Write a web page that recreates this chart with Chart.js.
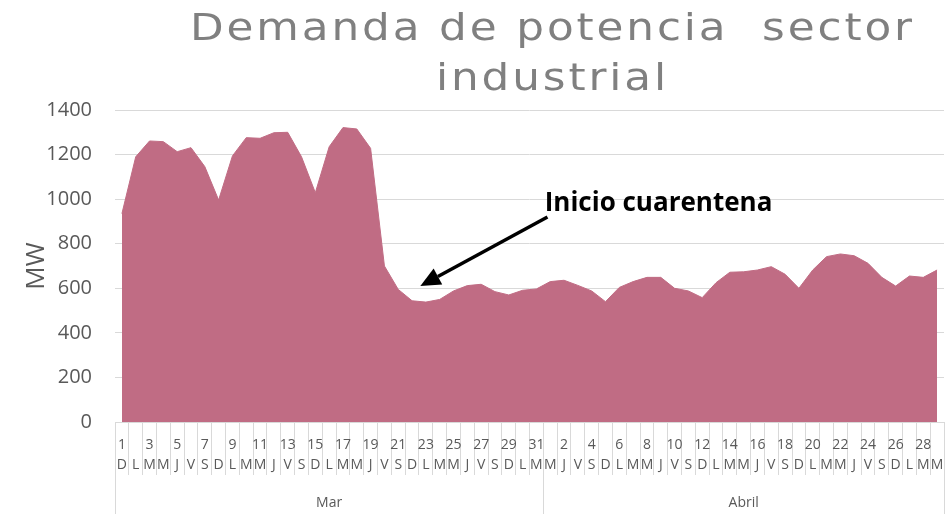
<!doctype html>
<html>
<head>
    <title>Demanda de potencia sector industrial</title>
    <meta charset="utf-8">
    <style>
        html, body {
            margin: 0;
            padding: 0;
            background: #fff;
        }

        .output {
            height: 514px;
            position: relative;
            width: 945px;
        }
    </style>
    <script src="https://cdn.jsdelivr.net/npm/chart.js@4/dist/chart.umd.min.js"></script>
</head>
<body>
<div class="output">
    <canvas data-output-chart></canvas>
</div>
<script>
    "use strict";

    // values (MW)
    let marchValues = [935, 1190, 1261, 1258, 1213, 1231, 1146, 996, 1194, 1276, 1273, 1298, 1300, 1190, 1029, 1235,
        1321, 1315, 1228, 700, 595, 544, 538, 550, 588, 612, 618, 585, 570, 591, 597];
    let aprilValues = [630, 636, 613, 588, 540, 604, 630, 649, 649, 600, 588, 558, 625, 672, 674, 682, 697, 663, 600,
        682, 742, 754, 746, 712, 649, 610, 655, 649, 682];

    let marchDays = ["1", "2", "3", "4", "5", "6", "7", "8", "9", "10", "11", "12", "13", "14", "15", "16", "17",
        "18", "19", "20", "21", "22", "23", "24", "25", "26", "27", "28", "29", "30", "31"];
    let aprilDays = ["1", "2", "3", "4", "5", "6", "7", "8", "9", "10", "11", "12", "13", "14", "15", "16", "17",
        "18", "19", "20", "21", "22", "23", "24", "25", "26", "27", "28", "29"];
    let weekLetters = ["D", "L", "M", "M", "J", "V", "S"]; // 1 de marzo = domingo
    let months = ["Mar", "Abril"];

    let yTicks = [0, 200, 400, 600, 800, 1000, 1200, 1400];

    let titleLines = ["Demanda de potencia  sector", "industrial"];
    let note = {text: "Inicio cuarentena", tip: [21.6, 610], tail: [30.8, 920], label: [30.6, 945]};

    let days = marchDays.concat(aprilDays);
    let values = marchValues.concat(aprilValues);
    let letters = days.map(function (d, i) {
        return weekLetters[i % weekLetters.length];
    });
    let monthEdges = [0, marchDays.length, days.length];
    let monthCenters = [marchDays.length / 2, marchDays.length + aprilDays.length / 2];

    let grey = "#595959";
    let lineGrey = "#d9d9d9";

    let titlePlugin = {
        id: "bigTitle",
        afterDraw: function (chart) {
            let ctx = chart.ctx;
            let stretch = 1.15;
            ctx.save();
            ctx.fillStyle = "#808080";
            ctx.textAlign = "center";
            ctx.textBaseline = "alphabetic";
            ctx.font = "38px 'DejaVu Sans'";
            ctx.letterSpacing = "0px";
            let w = ctx.measureText(titleLines[0]).width * stretch;
            let spacing = Math.max(0, (722 - w) / (titleLines[0].length - 1) / stretch);
            ctx.letterSpacing = spacing.toFixed(2) + "px";
            ctx.translate(551, 0);
            ctx.scale(stretch, 1);
            ctx.fillText(titleLines[0], spacing / 2, 40);
            ctx.fillText(titleLines[1], spacing / 2, 90);
            ctx.restore();
        },
    };

    let notePlugin = {
        id: "note",
        afterDatasetsDraw: function (chart) {
            let ctx = chart.ctx;
            let x = chart.scales.x;
            let y = chart.scales.y;
            let px = function (v) {
                return x.left + (x.right - x.left) * (v + 0.5) / days.length;
            };
            let tipX = px(note.tip[0]), tipY = y.getPixelForValue(note.tip[1]);
            let tailX = px(note.tail[0]), tailY = y.getPixelForValue(note.tail[1]);
            let ang = Math.atan2(tipY - tailY, tipX - tailX);
            let headLen = 20, headW = 9;
            let baseX = tipX - headLen * Math.cos(ang), baseY = tipY - headLen * Math.sin(ang);

            ctx.save();
            ctx.strokeStyle = "#000";
            ctx.fillStyle = "#000";
            ctx.lineWidth = 3.5;
            ctx.beginPath();
            ctx.moveTo(tailX, tailY);
            ctx.lineTo(baseX, baseY);
            ctx.stroke();
            ctx.beginPath();
            ctx.moveTo(tipX, tipY);
            ctx.lineTo(baseX + headW * Math.sin(ang), baseY - headW * Math.cos(ang));
            ctx.lineTo(baseX - headW * Math.sin(ang), baseY + headW * Math.cos(ang));
            ctx.closePath();
            ctx.fill();

            ctx.font = "bold 26px 'Open Sans'";
            ctx.textAlign = "left";
            ctx.textBaseline = "alphabetic";
            ctx.fillText(note.text, px(note.label[0]), y.getPixelForValue(note.label[1]));
            ctx.restore();
        },
    };

    let chart = new Chart(document.querySelector("[data-output-chart]"), {
        type: "line",
        data: {
            labels: days,
            datasets: [{
                data: values,
                fill: "origin",
                backgroundColor: "#c06c84",
                borderColor: "#c06c84",
                borderWidth: 1,
                pointRadius: 0,
                tension: 0,
            }],
        },
        options: {
            responsive: true,
            maintainAspectRatio: false,
            animation: false,
            layout: {
                padding: {top: 110, right: 1, bottom: 0, left: 0},
            },
            plugins: {
                legend: {display: false},
                tooltip: {enabled: false},
            },
            scales: {
                x: {
                    type: "category",
                    position: "bottom",
                    offset: true,
                    grid: {
                        offset: true,
                        drawOnChartArea: false,
                        drawTicks: true,
                        tickLength: 53,
                        color: lineGrey,
                    },
                    border: {display: true, color: lineGrey},
                    ticks: {
                        autoSkip: false,
                        maxRotation: 0,
                        minRotation: 0,
                        padding: -40,
                        color: grey,
                        font: {family: "'Open Sans'", size: 14, lineHeight: "20px"},
                        callback: function (value, index) {
                            return [index % 2 === 0 ? days[index] : "", letters[index]];
                        },
                    },
                    afterFit: function (scale) {
                        scale.height = 53;
                    },
                },
                month: {
                    type: "linear",
                    position: "bottom",
                    min: 0,
                    max: days.length,
                    grid: {
                        drawOnChartArea: false,
                        drawTicks: true,
                        tickLength: 39,
                        color: function (c) {
                            return c.tick && monthEdges.indexOf(c.tick.value) >= 0 ? lineGrey : "rgba(0,0,0,0)";
                        },
                    },
                    border: {display: false},
                    afterBuildTicks: function (scale) {
                        scale.ticks = monthEdges.concat(monthCenters).sort(function (a, b) {
                            return a - b;
                        }).map(function (v) {
                            return {value: v};
                        });
                    },
                    ticks: {
                        autoSkip: false,
                        maxRotation: 0,
                        padding: -19,
                        color: grey,
                        font: {family: "'Open Sans'", size: 14},
                        callback: function (value) {
                            let i = monthCenters.indexOf(value);
                            return i >= 0 ? months[i] : "";
                        },
                    },
                    afterFit: function (scale) {
                        scale.height = 39;
                    },
                },
                y: {
                    min: yTicks[0],
                    max: yTicks[yTicks.length - 1],
                    afterBuildTicks: function (scale) {
                        scale.ticks = yTicks.map(function (v) {
                            return {value: v};
                        });
                    },
                    grid: {
                        color: lineGrey,
                        drawTicks: false,
                    },
                    border: {display: false},
                    ticks: {
                        padding: 23,
                        color: grey,
                        font: {family: "'Open Sans'", size: 20},
                        callback: function (value) {
                            return String(value);
                        },
                    },
                    title: {
                        display: true,
                        text: "MW",
                        color: grey,
                        font: {family: "'Open Sans'", size: 26},
                        padding: {top: 21, bottom: 0},
                    },
                    afterFit: function (scale) {
                        scale.width = 115;
                    },
                },
            },
        },
        plugins: [notePlugin, titlePlugin],
    });
</script>
</body>
</html>
